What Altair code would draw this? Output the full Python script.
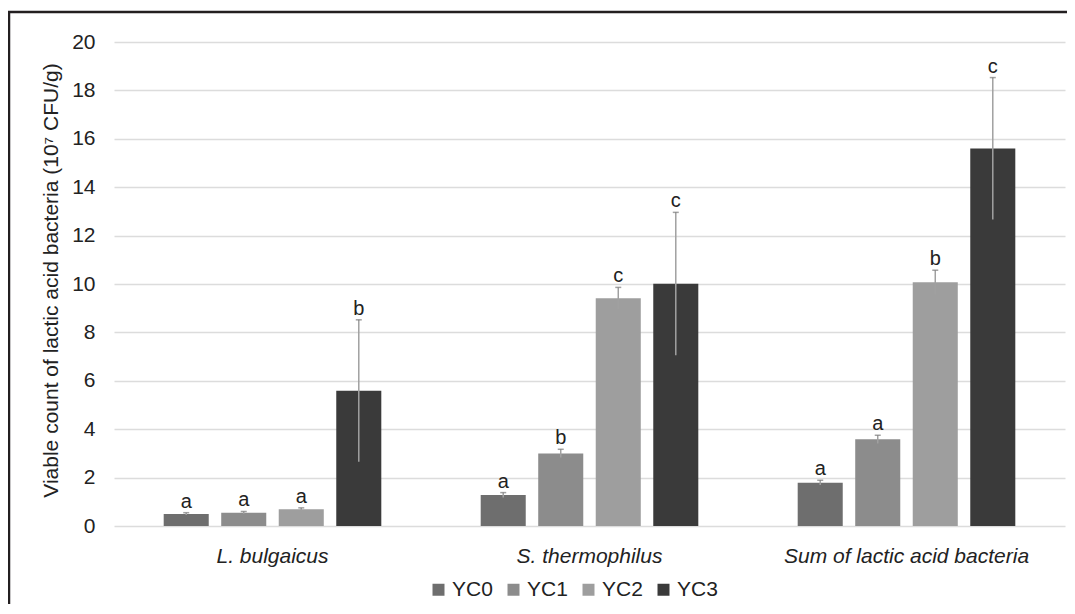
import altair as alt
import pandas as pd

categories = ["L. bulgaicus", "S. thermophilus", "Sum of lactic acid bacteria"]
groups = ["YC0", "YC1", "YC2", "YC3"]

values = {
    "YC0": [0.50, 1.28, 1.79],
    "YC1": [0.55, 3.00, 3.58],
    "YC2": [0.69, 9.41, 10.07],
    "YC3": [5.59, 10.01, 15.60],
}
errors = {
    "YC0": [0.05, 0.10, 0.10],
    "YC1": [0.05, 0.17, 0.17],
    "YC2": [0.06, 0.45, 0.50],
    "YC3": [2.93, 2.95, 2.93],
}
letters = {
    "YC0": ["a", "a", "a"],
    "YC1": ["a", "b", "a"],
    "YC2": ["a", "c", "b"],
    "YC3": ["b", "c", "c"],
}
colors = ["#6e6e6e", "#8c8c8c", "#9e9e9e", "#3a3a3a"]

rows = []
for g in groups:
    for i, c in enumerate(categories):
        v = values[g][i]
        e = errors[g][i]
        rows.append({"category": c, "group": g, "value": v,
                     "lo": v - e, "hi": v + e, "letter": letters[g][i]})
df = pd.DataFrame(rows)

FONT = "Liberation Sans"

x = alt.X("category:N", sort=categories, title=None,
          scale=alt.Scale(paddingInner=0.274, paddingOuter=0.137),
          axis=alt.Axis(labelAngle=0, labelFontSize=21, labelFontStyle="italic",
                        labelColor="#222222", labelFont=FONT, ticks=False,
                        domain=False, labelPadding=19, labelLimit=0))
xoff = alt.XOffset("group:N", sort=groups,
                   scale=alt.Scale(paddingInner=0.217, paddingOuter=0.109))

base = alt.Chart(df)

bars = base.mark_bar().encode(
    x=x, xOffset=xoff,
    y=alt.Y("value:Q", scale=alt.Scale(domain=[0, 20]),
            title="Viable count of lactic acid bacteria (10⁷ CFU/g)",
            axis=alt.Axis(values=list(range(0, 21, 2)), grid=True,
                          gridColor="#dcdcdc", gridWidth=1.5, domain=False,
                          ticks=False, labelFontSize=21, labelColor="#222222",
                          labelFont=FONT, labelPadding=19,
                          titleFontSize=21, titleFontWeight="normal",
                          titleColor="#222222", titleFont=FONT,
                          titleX=-63, titleY=238, titleAngle=-90,
                          titleAlign="center", titleBaseline="middle")),
    color=alt.Color("group:N", sort=groups,
                    scale=alt.Scale(domain=groups, range=colors),
                    legend=alt.Legend(title=None, orient="none", direction="horizontal",
                                      legendX=314, legendY=537, symbolType="square",
                                      symbolSize=144, symbolStrokeWidth=0,
                                      labelFontSize=21, labelFont=FONT,
                                      labelColor="#222222", labelOffset=3,
                                      columnPadding=10)),
)

err = base.mark_rule(color="#a0a0a0", strokeWidth=1.5).encode(
    x=x, xOffset=xoff, y="lo:Q", y2="hi:Q")

caps = base.mark_tick(color="#7a7a7a", size=6, thickness=1.5).encode(
    x=x, xOffset=xoff, y="hi:Q")

labels = base.mark_text(baseline="bottom", dy=-1, fontSize=20, font=FONT,
                        color="#222222").encode(
    x=x, xOffset=xoff, y="hi:Q", text="letter:N")

frame_data = alt.Data(values=[{}])
top_line = alt.Chart(frame_data).mark_rule(color="#231f20", strokeWidth=2.5).encode(
    x=alt.value(-106), x2=alt.value(970), y=alt.value(-30))
left_line = alt.Chart(frame_data).mark_rule(color="#231f20", strokeWidth=2.5).encode(
    x=alt.value(-105), y=alt.value(-31), y2=alt.value(600))

chart = alt.layer(bars, err, caps, labels, top_line, left_line).properties(
    width=951, height=484,
    autosize=alt.AutoSizeParams(type="none"),
    padding={"left": 106, "top": 34, "right": 2, "bottom": 78},
).configure_view(stroke=None)

chart.save("out.html", embed_options={"renderer": "svg", "actions": False})
